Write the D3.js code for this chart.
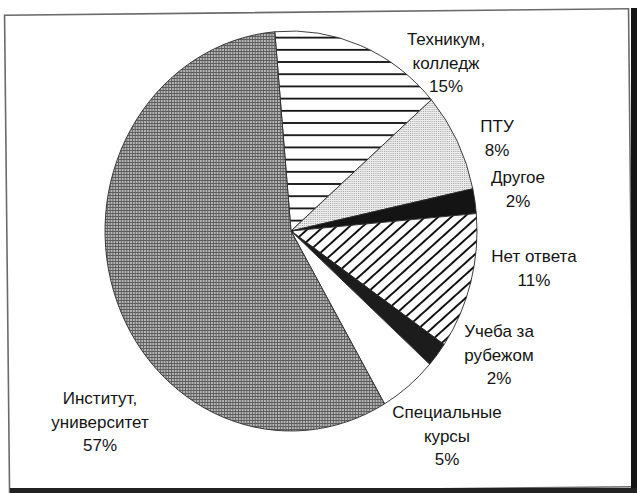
<!DOCTYPE html>
<html>
<head>
<meta charset="utf-8">
<script src="https://cdn.jsdelivr.net/npm/d3@7"></script>
<style>
  body { margin: 0; background: #fff; }
  svg { display: block; }
  .lbl { font-family: "Liberation Sans", Arial, sans-serif; font-size: 17px; fill: #141414; }
</style>
</head>
<body>
<svg width="637" height="493"></svg>
<script>

// slices, clockwise from the top
var categories = ["Техникум, колледж", "ПТУ", "Другое", "Нет ответа", "Учеба за рубежом", "Специальные курсы", "Институт, университет"];
var values = [15, 8, 2, 11, 2, 5, 57];
var labelLines = [["Техникум,", "колледж"], ["ПТУ"], ["Другое"], ["Нет ответа"], ["Учеба за", "рубежом"], ["Специальные", "курсы"], ["Институт,", "университет"]];

// fill ids for each slice (hatches / textures)
var fills = ["url(#hLines)", "url(#dots)", "#141414", "url(#diag)", "#1c1c1c", "#ffffff", "url(#grid)"];

// where the label blocks sit (centre x, first baseline)
var labelPos = [[446, 45], [497, 132], [518, 183], [534, 262], [499, 337], [447, 418], [100, 404]];

var svg = d3.select("svg"),
    width = +svg.attr("width"),
    height = +svg.attr("height");

var defs = svg.append("defs");

// horizontal lines
var p1 = defs.append("pattern").attr("id", "hLines")
  .attr("patternUnits", "userSpaceOnUse").attr("width", 20).attr("height", 12.2)
  .attr("y", 0.9);
p1.append("rect").attr("width", 20).attr("height", 12.2).attr("fill", "#fff");
p1.append("rect").attr("y", 0).attr("width", 20).attr("height", 1.8).attr("fill", "#111");

// light dotted
var p2 = defs.append("pattern").attr("id", "dots")
  .attr("patternUnits", "userSpaceOnUse").attr("width", 2).attr("height", 2);
p2.append("rect").attr("width", 2).attr("height", 2).attr("fill", "#eeeeee");
p2.append("rect").attr("width", 1).attr("height", 1).attr("fill", "#a4a4a4");

// diagonal lines
var p3 = defs.append("pattern").attr("id", "diag")
  .attr("patternUnits", "userSpaceOnUse").attr("width", 20).attr("height", 9)
  .attr("patternTransform", "rotate(-40)");
p3.append("rect").attr("width", 20).attr("height", 9).attr("fill", "#fff");
p3.append("rect").attr("width", 20).attr("height", 2).attr("fill", "#111");

// dense grey grid
var p4 = defs.append("pattern").attr("id", "grid")
  .attr("patternUnits", "userSpaceOnUse").attr("width", 3).attr("height", 3);
p4.append("rect").attr("width", 3).attr("height", 3).attr("fill", "#b6b6b6");
p4.append("rect").attr("width", 3).attr("height", 1).attr("fill", "#5e5e5e");
p4.append("rect").attr("width", 1).attr("height", 3).attr("fill", "#5e5e5e");

// frame
svg.append("rect")
  .attr("x", 7).attr("y", 12).attr("width", 624).attr("height", 478)
  .attr("fill", "none").attr("stroke", "#6a6a6a").attr("stroke-width", 1.6)
  .attr("transform", "rotate(-0.6," + width / 2 + "," + height / 2 + ")");
svg.append("rect").attr("x", 631).attr("y", 8).attr("width", 6).attr("height", 485).attr("fill", "#151515");
svg.append("rect").attr("x", 10).attr("y", 488).attr("width", 627).attr("height", 5).attr("fill", "#222");

var radius = 200;
var pie = d3.pie().sort(null)
  .startAngle(-5 * Math.PI / 180)
  .endAngle(355 * Math.PI / 180);
var arc = d3.arc().innerRadius(0).outerRadius(radius);

var g = svg.append("g")
  .attr("transform", "translate(291,231) scale(0.93,1)");

g.selectAll(".slice")
  .data(pie(values))
  .enter().append("path")
  .attr("class", "slice")
  .attr("d", arc)
  .attr("fill", function(d, i) { return fills[i]; })
  .attr("stroke", "#2a2a2a")
  .attr("stroke-width", 0.9)
  .attr("vector-effect", "non-scaling-stroke");

var lbl = svg.selectAll(".lbl")
  .data(categories)
  .enter().append("text")
  .attr("class", "lbl")
  .attr("text-anchor", "middle")
  .attr("x", function(d, i) { return labelPos[i][0]; })
  .attr("y", function(d, i) { return labelPos[i][1]; });

lbl.each(function(d, i) {
  var t = d3.select(this);
  var lines = labelLines[i].concat([values[i] + "%"]);
  lines.forEach(function(s, k) {
    t.append("tspan")
      .attr("x", labelPos[i][0])
      .attr("dy", k == 0 ? 0 : 23.7)
      .text(s);
  });
});

</script>
</body>
</html>
